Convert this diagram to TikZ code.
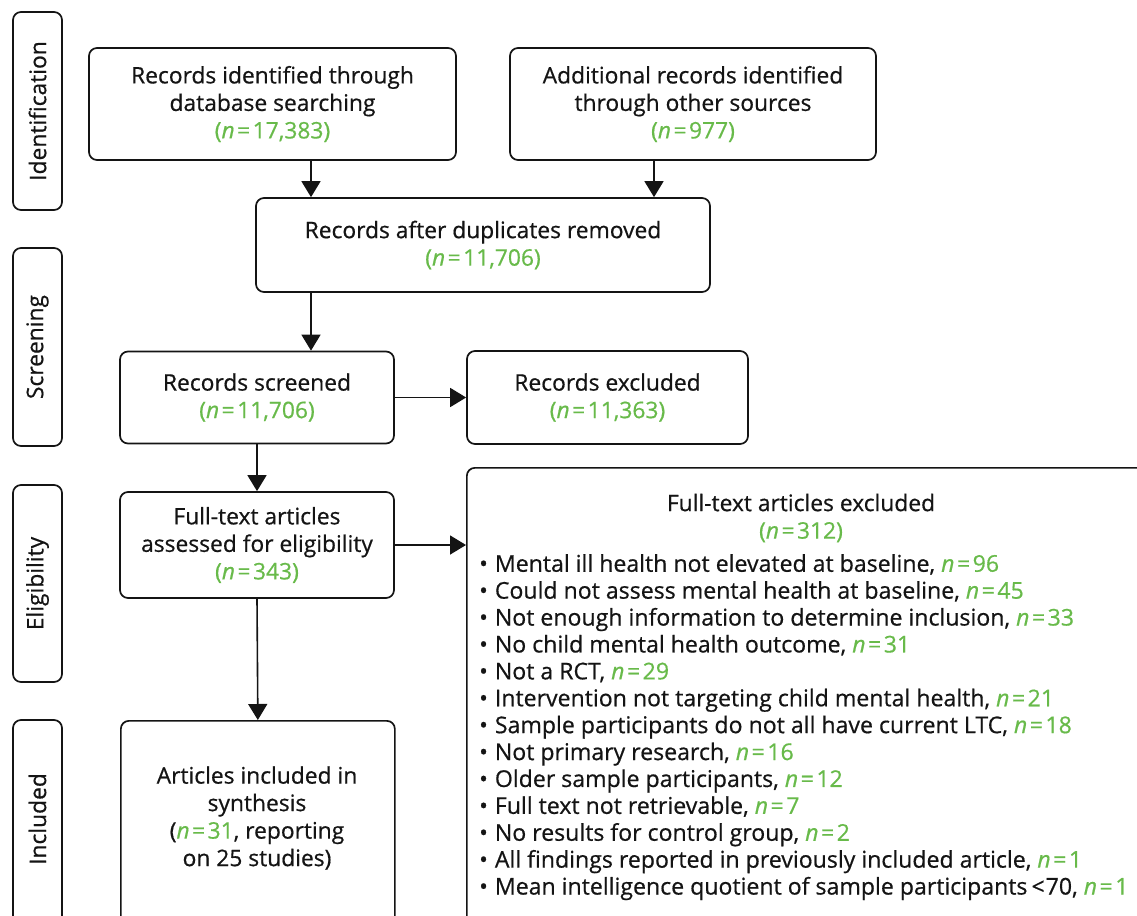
\documentclass[tikz,border=0pt]{standalone}
\usepackage{fontspec}
\setmainfont{Open Sans}[FakeBold=0.6]
\usetikzlibrary{arrows.meta}
\definecolor{ngreen}{RGB}{104,186,74}
\definecolor{ink}{RGB}{20,20,20}
\newcommand{\nn}[1]{\textcolor{ngreen}{\textit{n}\kern2.5pt=\kern2.5pt#1}}
\newcommand{\pn}[1]{\textcolor{ngreen}{(\textit{n}\kern2.5pt=\kern2.5pt#1)}}
\newcommand{\bul}{•\hspace{7pt}}
\begin{document}
\begin{tikzpicture}[x=1pt,y=-1pt,
  every node/.style={font=\fontsize{22.8}{27.5}\selectfont, text=ink},
  box/.style={draw=ink, line width=1.7pt, rounded corners=8pt, align=center, inner sep=0pt},
  side/.style={draw=ink, line width=1.7pt, rounded corners=8pt, rotate=90, minimum height=49pt, inner sep=0pt},
  arr/.style={draw=ink, line width=1.6pt, -{Triangle[length=16pt,width=19pt]}},
  txt/.style={inner sep=0pt, align=center},
  list/.style={inner sep=0pt, align=left, font=\fontsize{23.1}{26.9}\selectfont}]
\useasboundingbox (0,0) rectangle (1137,915);

% side labels
\node[side, minimum width=198pt] (s1) at (37.5,111) {Identification};
\node[side, minimum width=198pt] (s2) at (37.5,347) {Screening};
\node[side, minimum width=197pt] (s3) at (37.5,583.5) {Eligibility};
\node[side, minimum width=230pt] (s4) at (37.5,835) {};
\node[txt, rotate=90] (s4t) at (37.5,819) {Included};

% boxes
\node[box, minimum width=367pt, minimum height=112pt] (A) at (272.5,104)
  {Records identified through\\database searching\\\pn{17,383}};
\node[box, minimum width=366pt, minimum height=112pt] (B) at (693,104)
  {Additional records identified\\through other sources\\\pn{977}};
\node[box, minimum width=454pt, minimum height=94pt] (C) at (483,245)
  {Records after duplicates removed\\\pn{11,706}};
\node[box, minimum width=274pt, minimum height=92pt] (D) at (257,397.5)
  {Records screened\\\pn{11,706}};
\node[box, minimum width=281pt, minimum height=93pt] (E) at (607.5,397.5)
  {Records excluded\\\pn{11,363}};
\node[box, minimum width=274pt, minimum height=106pt] (F) at (257,545)
  {Full-text articles\\assessed for eligibility\\\pn{343}};
\node[box, minimum width=274pt, minimum height=215pt, anchor=north west] (H) at (120,720) {};
\node[txt] (Ht) at (257,818)
  {Articles included in\\synthesis\\(\nn{31}, reporting\\on 25 studies)};
\node[box, minimum width=700pt, minimum height=470pt, anchor=north west] (G) at (466,467) {};
\node[txt] (Gt) at (801,518) {Full-text articles excluded\\\pn{312}};
\node[list, anchor=north west] (Gl) at (479,554)
  {\bul Mental ill health not elevated at baseline, \nn{96}\\
   \bul Could not assess mental health at baseline, \nn{45}\\
   \bul Not enough information to determine inclusion, \nn{33}\\
   \bul No child mental health outcome, \nn{31}\\
   \bul Not a RCT, \nn{29}\\
   \bul Intervention not targeting child mental health, \nn{21}\\
   \bul Sample participants do not all have current LTC, \nn{18}\\
   \bul Not primary research, \nn{16}\\
   \bul Older sample participants, \nn{12}\\
   \bul Full text not retrievable, \nn{7}\\
   \bul No results for control group, \nn{2}\\
   \bul All findings reported in previously included article, \nn{1}\\
   \bul Mean intelligence quotient of sample participants\kern4pt<\kern1pt70, \nn{1}};

% connectors
\draw[arr] ([xshift=38.5pt]A.south) -- ([xshift=38.5pt]A.south |- C.north);
\draw[arr] ([xshift=-39pt]B.south) -- ([xshift=-39pt]B.south |- C.north);
\draw[arr] ([xshift=38.5pt]A.south |- C.south) -- ([xshift=38.5pt]A.south |- D.north);
\draw[arr] (D.east) -- (E.west);
\draw[arr] (D.south) -- (F.north);
\draw[arr] (F.east) -- (F.east -| G.west);
\draw[arr] (F.south) -- (H.north);
\end{tikzpicture}
\end{document}
